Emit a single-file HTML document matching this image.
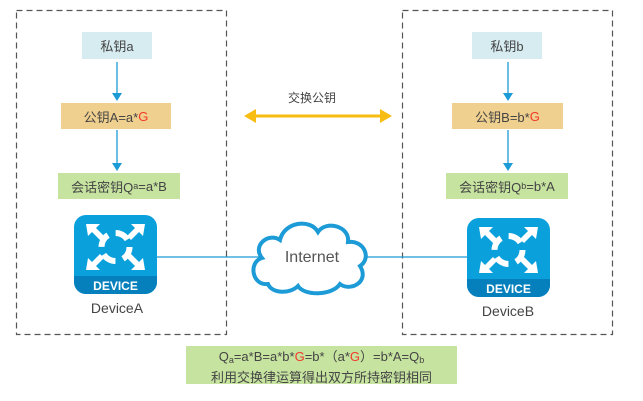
<!DOCTYPE html>
<html><head><meta charset="utf-8"><style>
body{margin:0;width:643px;height:401px;background:#fff;position:relative;overflow:hidden;font-family:"Liberation Sans","Noto Sans CJK SC",sans-serif;color:#444}
.a{position:absolute}
.box{position:absolute;display:flex;align-items:center;justify-content:center;font-size:13px;white-space:nowrap}
.r{color:#f03a2a}
sub{font-size:9px;vertical-align:-2px}
</style></head><body>
<svg class="a" style="left:0;top:0" width="643" height="401">
<rect x="16.5" y="10.5" width="210" height="324" fill="none" stroke="#555" stroke-width="1.2" stroke-dasharray="6,4"/>
<rect x="402.5" y="10.5" width="210" height="324" fill="none" stroke="#555" stroke-width="1.2" stroke-dasharray="6,4"/>
<g stroke="#1c9bd6" stroke-width="1.3" fill="#1c9bd6">
<line x1="117" y1="62" x2="117" y2="94"/><polygon points="112,93 122,93 117,101" stroke="none"/>
<line x1="117" y1="130" x2="117" y2="164"/><polygon points="112,163 122,163 117,171" stroke="none"/>
<line x1="508" y1="62" x2="508" y2="94"/><polygon points="503,93 513,93 508,101" stroke="none"/>
<line x1="508" y1="130" x2="508" y2="164"/><polygon points="503,163 513,163 508,171" stroke="none"/>
<line x1="157" y1="257" x2="467" y2="257"/>
</g>
<g stroke="#f7bd13" fill="#f7bd13">
<line x1="252" y1="116" x2="384" y2="116" stroke-width="3"/>
<polygon points="244,116 256,109 256,123" stroke="none"/>
<polygon points="392,116 380,109 380,123" stroke="none"/>
</g>
<path d="M268,284 C252,286 248,262 262,258 C252,246 268,232 280,240 C284,222 310,218 318,232 C326,220 350,226 348,242 C364,240 372,258 360,266 C370,282 350,292 340,284 C332,296 304,296 298,286 C290,294 272,294 268,284 Z" fill="#fff" stroke="#1c9bd6" stroke-width="4"/>
<g>
<rect x="74" y="215" width="83" height="79" rx="12" fill="#0aa0dc"/>
<path d="M74,276 H157 V282 A12,12 0 0 1 145,294 H86 A12,12 0 0 1 74,282 Z" fill="#0580bc"/>
<g fill="#fff"><path d="M86,224 h14 l-4,4 8,8 -4,4 -8,-8 -4,4z M145,224 h-14 l4,4 -8,8 4,4 8,-8 4,4z M86,270 h14 l-4,-4 8,-8 -4,-4 -8,8 -4,-4z M145,270 h-14 l4,-4 -8,-8 4,-4 8,8 4,-4z"/>
<circle cx="115.5" cy="247" r="14" fill="none" stroke="#fff" stroke-width="6" stroke-dasharray="14,8"/></g>
<text x="115.5" y="290" font-family="Liberation Sans" font-weight="bold" font-size="12" fill="#fff" text-anchor="middle">DEVICE</text>
</g>
<g transform="translate(393,3)">
<rect x="74" y="215" width="83" height="79" rx="12" fill="#0aa0dc"/>
<path d="M74,276 H157 V282 A12,12 0 0 1 145,294 H86 A12,12 0 0 1 74,282 Z" fill="#0580bc"/>
<g fill="#fff"><path d="M86,224 h14 l-4,4 8,8 -4,4 -8,-8 -4,4z M145,224 h-14 l4,4 -8,8 4,4 8,-8 4,4z M86,270 h14 l-4,-4 8,-8 -4,-4 -8,8 -4,-4z M145,270 h-14 l4,-4 -8,-8 4,-4 8,8 4,-4z"/>
<circle cx="115.5" cy="247" r="14" fill="none" stroke="#fff" stroke-width="6" stroke-dasharray="14,8"/></g>
<text x="115.5" y="290" font-family="Liberation Sans" font-weight="bold" font-size="12" fill="#fff" text-anchor="middle">DEVICE</text>
</g>
</svg>
<div class="box" style="left:82px;top:32px;width:70px;height:27px;background:#d6ecf1">私钥a</div>
<div class="box" style="left:61px;top:103px;width:110px;height:26px;background:#f0d08f">公钥A=a*<span class="r">G</span></div>
<div class="box" style="left:58px;top:173px;width:122px;height:26px;background:#c6e3a0">会话密钥Q<sub>a</sub>=a*B</div>
<div class="box" style="left:472px;top:32px;width:70px;height:27px;background:#d6ecf1">私钥b</div>
<div class="box" style="left:452px;top:103px;width:111px;height:26px;background:#f0d08f">公钥B=b*<span class="r">G</span></div>
<div class="box" style="left:446px;top:173px;width:122px;height:26px;background:#c6e3a0">会话密钥Q<sub>b</sub>=b*A</div>
<div class="box" style="left:67px;top:298px;width:100px;height:20px;font-size:14px">DeviceA</div>
<div class="box" style="left:458px;top:301px;width:100px;height:20px;font-size:14px">DeviceB</div>
<div class="box" style="left:272px;top:88px;width:80px;height:18px;font-size:12px">交换公钥</div>
<div class="box" style="left:262px;top:248px;width:100px;height:20px;font-size:16px;color:#555">Internet</div>
<div class="a" style="left:186px;top:346px;width:271px;height:38px;background:#c6e3a0;text-align:center;font-size:13px;line-height:17px;padding-top:2px;box-sizing:border-box">Q<sub>a</sub>=a*B=a*b*<span class="r">G</span>=b*（a*<span class="r">G</span>）=b*A=Q<sub>b</sub><br>利用交换律运算得出双方所持密钥相同</div>
</body></html>
